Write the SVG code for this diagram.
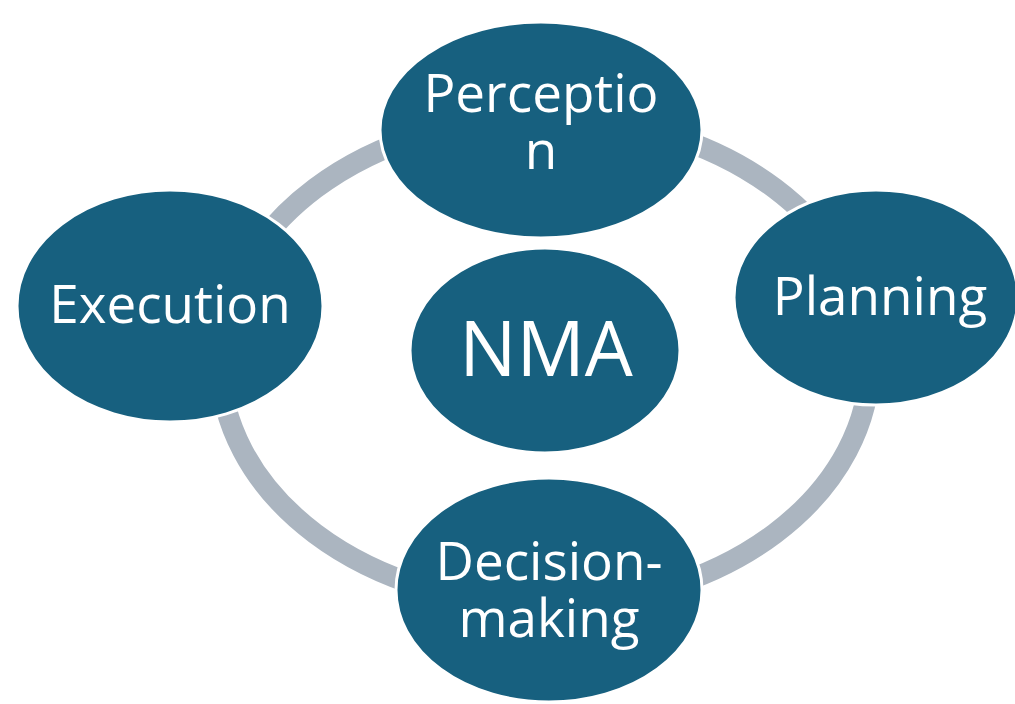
<svg xmlns="http://www.w3.org/2000/svg" width="1015" height="704" viewBox="0 0 1015 704">
<style>
.node{fill:#17607f;stroke:#ffffff;stroke-width:3}
.lbl{fill:#ffffff;font-family:"Open Sans","Noto Sans","Liberation Sans",sans-serif;font-size:53px;text-anchor:middle}
.ring{fill:none;stroke:#abb5c0;stroke-width:21}
</style>
<rect width="1015" height="704" fill="#ffffff"/>
<g id="connectors">
<ellipse class="ring" cx="545" cy="361" rx="325" ry="244"/>
</g>
<g id="node-perception">
<ellipse class="node" cx="541" cy="130" rx="161" ry="108"/>
<text class="lbl"><tspan x="541" y="112">Perceptio</tspan><tspan x="541" y="169">n</tspan></text>
</g>
<g id="node-planning">
<ellipse class="node" cx="876" cy="297.5" rx="142" ry="107.5"/>
<text class="lbl" x="880" y="315">Planning</text>
</g>
<g id="node-execution">
<ellipse class="node" cx="170" cy="306" rx="153" ry="116"/>
<text class="lbl" x="170" y="323">Execution</text>
</g>
<g id="node-nma">
<ellipse class="node" cx="545" cy="350.5" rx="135" ry="102.5"/>
<text class="lbl" x="546" y="376" style="font-size:76px">NMA</text>
</g>
<g id="node-decision">
<ellipse class="node" cx="549" cy="590" rx="153" ry="112"/>
<text class="lbl"><tspan x="549" y="580">Decision-</tspan><tspan x="549" y="637">making</tspan></text>
</g>
</svg>
